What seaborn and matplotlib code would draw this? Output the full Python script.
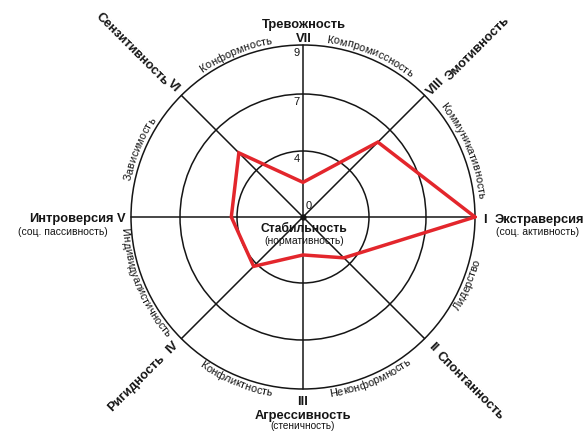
import matplotlib
matplotlib.use("Agg")
import numpy as np
import pandas as pd
import matplotlib.pyplot as plt
import seaborn as sns
from matplotlib.patches import Circle
from matplotlib.font_manager import FontProperties

# Scales of the profile (I..VIII) and the values
scales = ["I", "II", "III", "IV", "V", "VI", "VII", "VIII"]
scale_names = ["Экстраверсия", "Спонтанность", "Агрессивность", "Ригидность",
               "Интроверсия", "Сензитивность", "Тревожность", "Эмотивность"]
between_names = ["Лидерство", "Неконформность", "Конфликтность", "Индивидуалистичность",
                 "Зависимость", "Конформность", "Компромиссность", "Коммуникативность"]
profile = [9, 3.5, 2.3, 4.2, 4.3, 5.3, 2.1, 6.1]
ring_levels = [4, 7, 9]
ring_ticks = ["4", "7", "9"]

# Drawing layout (pixels of the picture)
cx, cy = 303, 217
ring_radius = [66, 123, 172]
ink = "#151515"
red = "#e3262c"

sns.set_style("white")
plt.rcParams["font.family"] = ["Liberation Sans", "DejaVu Sans"]

fig = plt.figure(figsize=(5.83, 4.32), dpi=100)
ax = fig.add_axes([0, 0, 1, 1])


def to_r(v):
    return np.interp(v, [0] + ring_levels, [0] + ring_radius)


def to_xy(v, ang):
    r = to_r(v)
    return cx + r * np.cos(np.radians(ang)), cy - r * np.sin(np.radians(ang))


angles = [-45 * k for k in range(len(scales))]

# Rings and spokes
for lvl in ring_levels:
    ax.add_patch(Circle((cx, cy), to_r(lvl), fill=False, ec=ink, lw=1.1))
for ang in angles:
    x, y = to_xy(ring_levels[-1], ang)
    ax.plot([cx, x], [cy, y], color=ink, lw=1.1)
ax.plot(cx, cy, "o", ms=3.5, color=ink)

# Profile line
pts = [to_xy(v, a) for v, a in zip(profile, angles)]
pts.append(pts[0])
df = pd.DataFrame(pts, columns=["x", "y"])
sns.lineplot(data=df, x="x", y="y", sort=False, estimator=None, color=red, lw=2.5, ax=ax)
ax.lines[-1].set_solid_joinstyle("miter")
ax.set_xlim(0, 583)
ax.set_ylim(432, 0)
ax.axis("off")

# Ring values on the VII axis
for lvl, t in zip(ring_levels, ring_ticks):
    ax.text(cx - 3, cy - to_r(lvl) + 3, t, ha="right", va="top", fontsize=8, color=ink)
ax.text(cx + 3, cy - 6, "0", ha="left", va="bottom", fontsize=8, color=ink)

ax.text(cx + 1, 232, "Стабильность", ha="center", va="baseline", fontsize=8.7,
        fontweight="bold", color=ink)
ax.text(cx + 1, 244, "(нормативность)", ha="center", va="baseline", fontsize=7.5, color=ink)

# Curved labels between the scales
renderer = fig.canvas.get_renderer()


def arc_text(s, ang_c, upper, size=7.9):
    prop = FontProperties(family=["Liberation Sans"], size=size)

    def w(t):
        return renderer.get_text_width_height_descent(t, prop, ismath=False)[0] if t else 0.0

    r = 176 if upper else 182
    total = w(s)
    for i, ch in enumerate(s):
        mid = (w(s[:i]) + w(s[:i + 1])) / 2 - total / 2
        d = np.degrees(mid / r)
        th = ang_c - d if upper else ang_c + d
        rot = th - 90 if upper else th + 90
        ax.text(cx + r * np.cos(np.radians(th)), cy - r * np.sin(np.radians(th)), ch,
                fontproperties=prop, ha="center", va="baseline", rotation=rot,
                rotation_mode="anchor", color=ink)


for k, name in enumerate(between_names):
    ang_c = -45 * k - 22.5
    if ang_c < -180:
        ang_c += 360
    arc_text(name, ang_c, upper=ang_c > 0)

# Scale names
bold = dict(fontsize=9.3, fontweight="bold", color=ink)
ax.text(304, 28, scale_names[6], ha="center", va="baseline", **bold)
ax.text(304, 42, scales[6], ha="center", va="baseline", **bold)

ax.text(483, 223, scales[0], ha="left", va="baseline", **bold)
ax.text(495, 223, scale_names[0], ha="left", va="baseline", **bold)
ax.text(496, 235, "(соц. активность)", ha="left", va="baseline", fontsize=7.5, color=ink)

ax.text(114, 222, scale_names[4], ha="right", va="baseline", **bold)
ax.text(117, 222, scales[4], ha="left", va="baseline", **bold)
ax.text(108, 235, "(соц. пассивность)", ha="right", va="baseline", fontsize=7.5, color=ink)

ax.text(303, 405, scales[2], ha="center", va="baseline", **bold)
ax.text(303, 419, scale_names[2], ha="center", va="baseline", **bold)
ax.text(303, 429, "(стеничность)", ha="center", va="baseline", fontsize=7.2, color=ink)

diag = [(5, (173, 86), (132, 49), -45),
        (7, (436, 87), (478, 49), 45),
        (1, (433, 347), (470, 386), -45),
        (3, (172, 348), (136, 383), 45)]
for k, pos_num, pos_name, rot in diag:
    ax.text(*pos_num, scales[k], ha="center", va="center", rotation=rot,
            rotation_mode="anchor", **bold)
    ax.text(*pos_name, scale_names[k], ha="center", va="center", rotation=rot,
            rotation_mode="anchor", **bold)

fig.savefig("out.png", dpi=100)
